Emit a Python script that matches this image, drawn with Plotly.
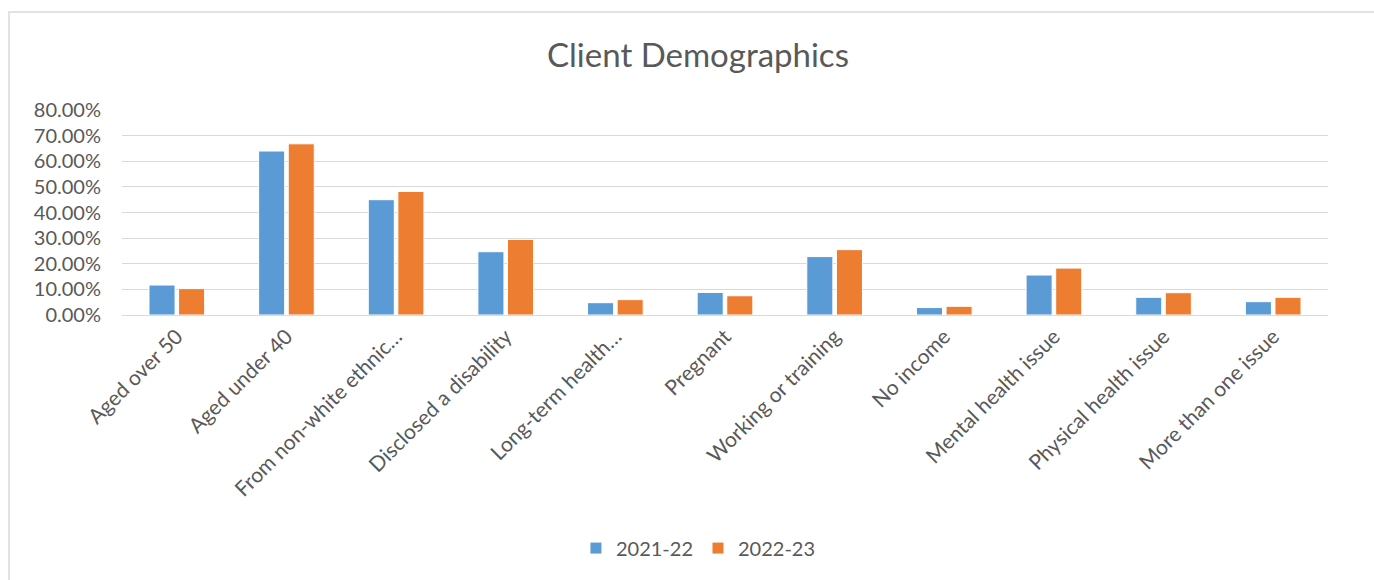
import plotly.graph_objects as go

categories = ["Aged over 50", "Aged under 40", "From non-white ethnic…", "Disclosed a disability",
              "Long-term health…", "Pregnant", "Working or training", "No income",
              "Mental health issue", "Physical health issue", "More than one issue"]
series_2021_22 = [0.117, 0.640, 0.450, 0.247, 0.048, 0.088, 0.228, 0.029, 0.156, 0.069, 0.052]
series_2022_23 = [0.103, 0.668, 0.482, 0.295, 0.060, 0.075, 0.255, 0.034, 0.183, 0.087, 0.069]
y_ticks = [0, 0.1, 0.2, 0.3, 0.4, 0.5, 0.6, 0.7, 0.8]

TEXT = "#595959"
FONT = "Lato"

fig = go.Figure()
fig.add_trace(go.Bar(name="2021-22", x=categories, y=series_2021_22,
                     marker=dict(color="#5B9BD5", line=dict(color="#FFFFFF", width=1))))
fig.add_trace(go.Bar(name="2022-23", x=categories, y=series_2022_23,
                     marker=dict(color="#ED7D31", line=dict(color="#FFFFFF", width=1))))

fig.update_layout(
    width=1374, height=580,
    margin=dict(l=122, r=46, t=110, b=265),
    paper_bgcolor="white", plot_bgcolor="white",
    barmode="group", bargap=0.46, bargroupgap=0.12,
    font=dict(family=FONT, color=TEXT, size=20),
    title=dict(text="Client Demographics", x=0.508, xanchor="center", y=1 - 55 / 580, yanchor="middle",
               font=dict(family=FONT, size=33, color=TEXT)),
    xaxis=dict(tickangle=-45, showline=True, linecolor="#D9D9D9", linewidth=1, ticks="",
               tickfont=dict(family=FONT, size=21, color=TEXT)),
    yaxis=dict(range=[0, 0.8], tickvals=y_ticks, tickformat=".2%", showgrid=True,
               gridcolor="#D9D9D9", gridwidth=1, zeroline=False, showline=False,
               tickfont=dict(family=FONT, size=20, color=TEXT), ticklabelstandoff=20),
    legend=dict(orientation="h", x=0.478, xanchor="center", y=-1.137, yanchor="middle",
                font=dict(family=FONT, size=20, color=TEXT), traceorder="normal"),
    showlegend=True,
)

fig.add_shape(type="rect", xref="paper", yref="paper",
              x0=(9 - 122) / 1206, x1=(1400 - 122) / 1206,
              y0=(315 - 600) / 205, y1=(315 - 12) / 205,
              line=dict(color="#D9D9D9", width=1.5), fillcolor="rgba(0,0,0,0)", layer="below")

fig.write_html("out.html", config={"displayModeBar": False},
               post_script="document.body.style.margin='0';document.body.style.overflow='hidden';")
